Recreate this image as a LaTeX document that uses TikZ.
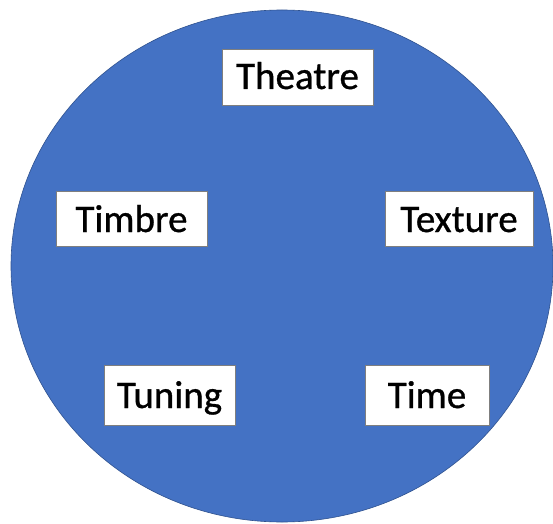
\documentclass[tikz,border=0pt]{standalone}
\usepackage{fontspec}
\setmainfont{Carlito}
\newfontfamily\labelfont{Carlito}[FakeBold=0.8]
\usetikzlibrary{shapes.geometric}
\definecolor{ringblue}{HTML}{4472C4}
\definecolor{ringedge}{HTML}{2F528F}
\definecolor{boxedge}{HTML}{7F7F7F}
\begin{document}
\begin{tikzpicture}[x=1pt,y=1pt,
  label box/.style={draw=boxedge, line width=0.6pt, fill=white, inner sep=0pt,
    font=\labelfont\fontsize{39}{42}\selectfont, text=black, anchor=center,
    text height=26pt, text depth=0pt}]
\useasboundingbox (0,0) rectangle (553,523);
\fill[white] (0,0) rectangle (553,523);
\node[draw=ringedge, fill=ringblue, line width=0.6pt, ellipse, minimum width=542pt, minimum height=512pt, inner sep=0pt] (ring) at (282,257) {};
\node[label box, minimum width=151pt, minimum height=56pt, text height=24pt] (theatre) at (297.5,446) {Theatre};
\node[label box, minimum width=151pt, minimum height=55pt, text height=27pt] (timbre) at (131.5,304.5) {Timbre};
\node[label box, minimum width=148pt, minimum height=55pt, text height=27pt] (texture) at (459,304.5) {Texture};
\node[label box, minimum width=131pt, minimum height=60pt] (tuning) at (169.5,128) {Tuning};
\node[label box, minimum width=124pt, minimum height=60pt] (time) at (427,128) {Time};
\end{tikzpicture}
\end{document}
